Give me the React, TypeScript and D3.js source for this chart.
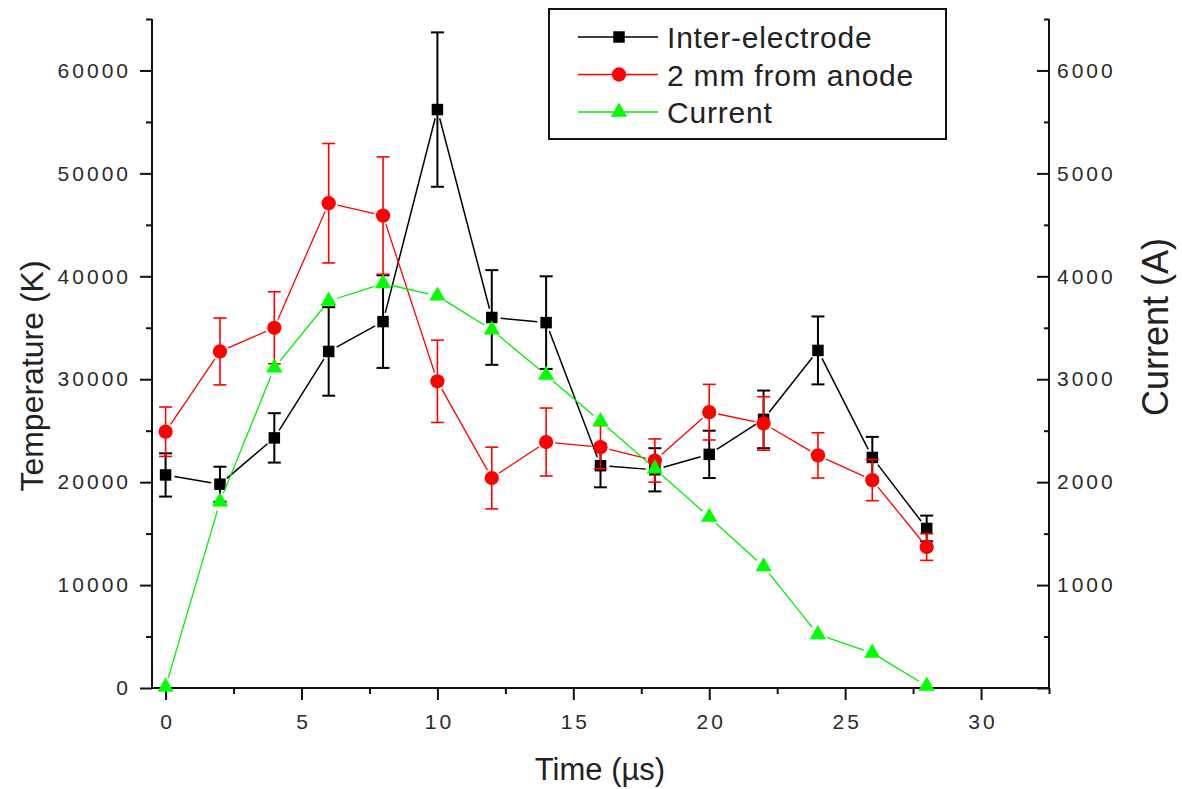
import React, { useEffect, useRef } from 'react';
import * as d3 from 'd3';

// time (µs)
const times = [0, 2, 4, 6, 8, 10, 12, 14, 16, 18, 20, 22, 24, 26, 28];
// temperature (K), inter-electrode
const interTemp = [20700, 19800, 24300, 32700, 35600, 56200, 36000, 35500, 21600, 21200, 22700, 26100, 32800, 22400, 15500];
const interErr = [2100, 1700, 2400, 4300, 4500, 7500, 4600, 4500, 2100, 2100, 2300, 2800, 3300, 2000, 1250];
// temperature (K), 2 mm from anode
const anodeTemp = [24900, 32700, 35000, 47100, 45900, 29800, 20400, 23900, 23400, 22100, 26800, 25700, 22600, 20200, 13700];
const anodeErr = [2400, 3250, 3500, 5800, 5700, 4000, 3000, 3300, 2100, 2100, 2700, 2600, 2200, 2000, 1300];
// current (A)
const current = [10, 1810, 3110, 3760, 3930, 3810, 3480, 3040, 2590, 2130, 1660, 1180, 520, 340, 20];

const xTicks = [0, 5, 10, 15, 20, 25, 30];
const xMinor = [2.5, 7.5, 12.5, 17.5, 22.5, 27.5, 32.5];
const tempTicks = [0, 10000, 20000, 30000, 40000, 50000, 60000];
const tempMinor = [5000, 15000, 25000, 35000, 45000, 55000, 65000];
const currTicks = [0, 1000, 2000, 3000, 4000, 5000, 6000];
const currMinor = [500, 1500, 2500, 3500, 4500, 5500, 6500];

const legendNames = ['Inter-electrode', '2 mm from anode', 'Current'];

const FONT = '"Liberation Sans", Arial, sans-serif';
const W = 1182;
const H = 789;

const App = () => {
  const svgRef = useRef<SVGSVGElement>(null);

  useEffect(() => {
    if (!svgRef.current) return;
    const svg = d3.select(svgRef.current);
    svg.selectAll('*').remove();

    const left = 152, right = 1049, top = 19, bottom = 688;
    const x = d3.scaleLinear().domain([-0.5, 32.5]).range([left, right]);
    const yT = d3.scaleLinear().domain([0, 65000]).range([bottom, top]);
    const yC = d3.scaleLinear().domain([0, 6500]).range([bottom, top]);

    svg.append('rect').attr('width', W).attr('height', H).attr('fill', '#fff');

    const styleAxis = (g, minor = false) => {
      g.select('.domain').remove();
      g.attr('font-size', 21).attr('font-family', FONT);
      g.selectAll('.tick line').attr('stroke', '#111').attr('stroke-width', 2);
      g.selectAll('.tick text')
        .attr('fill', '#2a2a2a')
        .style('font-family', FONT)
        .style('font-size', '21px')
        .style('letter-spacing', '3px');
      if (minor) g.selectAll('.tick text').remove();
    };

    // bottom axis
    const gx = svg.append('g').attr('transform', `translate(0,${bottom})`)
      .call(d3.axisBottom(x).tickValues(xTicks).tickSize(12).tickPadding(14).tickFormat(d3.format('d')));
    styleAxis(gx);
    gx.selectAll('.tick text').attr('dx', 1.5);
    const gxm = svg.append('g').attr('transform', `translate(0,${bottom})`)
      .call(d3.axisBottom(x).tickValues(xMinor).tickSize(6));
    styleAxis(gxm, true);

    // left axis
    const gy = svg.append('g').attr('transform', `translate(${left},0)`)
      .call(d3.axisLeft(yT).tickValues(tempTicks).tickSize(12).tickPadding(9).tickFormat(d3.format('d')));
    styleAxis(gy);
    const gym = svg.append('g').attr('transform', `translate(${left},0)`)
      .call(d3.axisLeft(yT).tickValues(tempMinor).tickSize(6));
    styleAxis(gym, true);

    // right axis, ticks pointing inward
    const gr = svg.append('g').attr('transform', `translate(${right},0)`)
      .call(d3.axisRight(yC).tickValues(currTicks).tickSize(-12).tickPadding(8)
        .tickFormat(d => (d === 0 ? '' : d3.format('d')(d))));
    styleAxis(gr);
    const grm = svg.append('g').attr('transform', `translate(${right},0)`)
      .call(d3.axisRight(yC).tickValues(currMinor).tickSize(-5));
    styleAxis(grm, true);

    // axis lines
    svg.append('path')
      .attr('d', `M${left},${top}V${bottom}H${right}V${top}`)
      .attr('fill', 'none').attr('stroke', '#111').attr('stroke-width', 2);

    // axis titles
    svg.append('text').attr('x', 600).attr('y', 780)
      .attr('text-anchor', 'middle').attr('fill', '#222')
      .style('font-family', FONT).style('font-size', '31px')
      .text('Time (µs)');
    svg.append('text').attr('transform', `translate(43,376) rotate(-90)`)
      .attr('text-anchor', 'middle').attr('fill', '#222')
      .style('font-family', FONT).style('font-size', '32px')
      .text('Temperature (K)');
    svg.append('text').attr('transform', `translate(1168,327) rotate(-90)`)
      .attr('text-anchor', 'middle').attr('fill', '#222')
      .style('font-family', FONT).style('font-size', '36px')
      .text('Current (A)');

    // line segments with small gaps at the symbols
    const gapLine = (pts, color, width) => {
      for (let i = 0; i < pts.length - 1; i++) {
        const [x1, y1] = pts[i];
        const [x2, y2] = pts[i + 1];
        const len = Math.hypot(x2 - x1, y2 - y1);
        const g = 9;
        if (len <= 2 * g) continue;
        const ux = (x2 - x1) / len, uy = (y2 - y1) / len;
        svg.append('line')
          .attr('x1', x1 + ux * g).attr('y1', y1 + uy * g)
          .attr('x2', x2 - ux * g).attr('y2', y2 - uy * g)
          .attr('stroke', color).attr('stroke-width', width);
      }
    };

    const errorBars = (vals, errs, color, width) => {
      const g = svg.append('g').attr('stroke', color).attr('stroke-width', width);
      times.forEach((t, i) => {
        const cx = x(t);
        const y1 = yT(vals[i] - errs[i]);
        const y2 = yT(vals[i] + errs[i]);
        g.append('line').attr('x1', cx).attr('x2', cx).attr('y1', y1).attr('y2', y2);
        g.append('line').attr('x1', cx - 6.5).attr('x2', cx + 6.5).attr('y1', y1).attr('y2', y1);
        g.append('line').attr('x1', cx - 6.5).attr('x2', cx + 6.5).attr('y1', y2).attr('y2', y2);
      });
    };

    const square = d3.symbol().type(d3.symbolSquare).size(132);
    const circle = d3.symbol().type(d3.symbolCircle).size(160);
    const triangle = d3.symbol().type(d3.symbolTriangle).size(115);

    // inter-electrode
    const interPts = times.map((t, i) => [x(t), yT(interTemp[i])]);
    gapLine(interPts, '#000', 1.5);
    errorBars(interTemp, interErr, '#000', 2);
    svg.append('g').selectAll('path').data(interPts).enter().append('path')
      .attr('d', square).attr('transform', d => `translate(${d[0]},${d[1]})`).attr('fill', '#000');

    // 2 mm from anode
    const anodePts = times.map((t, i) => [x(t), yT(anodeTemp[i])]);
    gapLine(anodePts, '#ff0000', 1.3);
    errorBars(anodeTemp, anodeErr, '#ff0000', 1.6);
    svg.append('g').selectAll('path').data(anodePts).enter().append('path')
      .attr('d', circle).attr('transform', d => `translate(${d[0]},${d[1]})`).attr('fill', '#ff0000');

    // current
    const currPts = times.map((t, i) => [x(t), yC(current[i])]);
    gapLine(currPts, '#00ee00', 1.3);
    svg.append('g').selectAll('path').data(currPts).enter().append('path')
      .attr('d', triangle).attr('transform', d => `translate(${d[0]},${d[1]})`).attr('fill', '#00ff00');

    // legend
    const lg = svg.append('g');
    lg.append('rect').attr('x', 549).attr('y', 9).attr('width', 397).attr('height', 130)
      .attr('fill', '#fff').attr('stroke', '#111').attr('stroke-width', 2);
    const legendColors = ['#000', '#ff0000', '#00ee00'];
    const legendSyms = [square, circle, triangle];
    const legendFill = ['#000', '#ff0000', '#00ff00'];
    legendNames.forEach((name, i) => {
      const cy = 37 + i * 37.5;
      lg.append('line').attr('x1', 578).attr('x2', 658).attr('y1', cy).attr('y2', cy)
        .attr('stroke', legendColors[i]).attr('stroke-width', 1.5);
      lg.append('path').attr('d', legendSyms[i]).attr('transform', `translate(619,${cy})`)
        .attr('fill', legendFill[i]);
      lg.append('text').attr('x', 667).attr('y', cy + 11).attr('fill', '#222')
        .style('font-family', FONT).style('font-size', '30px').style('letter-spacing', '0.8px')
        .text(name);
    });
  }, []);

  return (
    <svg ref={svgRef} width={W} height={H}
      style={{ position: 'absolute', left: 0, top: 0, display: 'block' }} />
  );
};

export default App;
